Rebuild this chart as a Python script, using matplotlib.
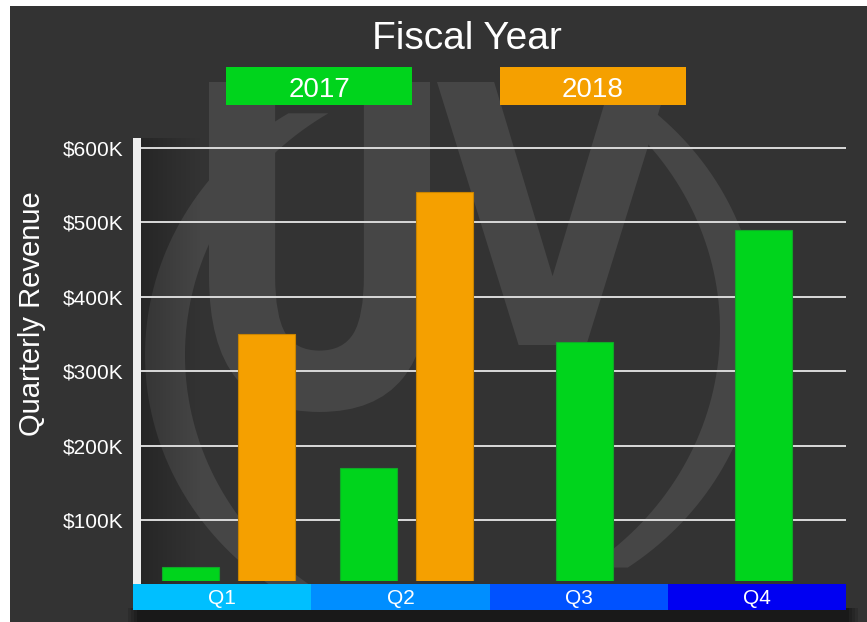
import matplotlib
matplotlib.use('Agg')
import matplotlib.pyplot as plt
import numpy as np
from matplotlib.patches import Rectangle, Polygon, PathPatch
from matplotlib.path import Path
from matplotlib.textpath import TextPath
from matplotlib.font_manager import FontProperties

# data
quarters = ['Q1', 'Q2', 'Q3', 'Q4']
years = ['2017', '2018']
rev_2017 = [38000, 170000, 340000, 490000]
rev_2018 = [350000, 540000, None, None]
yticks = [100000, 200000, 300000, 400000, 500000, 600000]
ytick_labels = ['$100K', '$200K', '$300K', '$400K', '$500K', '$600K']

year_colors = ['#00d41c', '#f5a000']
year_edges = ['#10a828', '#c98400']
band_colors = ['#00bfff', '#008eff', '#0052ff', '#0000f2']
panel = '#333333'
mark = '#464646'

plt.rcParams['font.family'] = ['Liberation Sans', 'DejaVu Sans']

W, H = 867, 622
fig = plt.figure(figsize=(W / 100, H / 100), dpi=100)
fig.patch.set_facecolor('white')


def fx(px):
    return px / W


def fy(py):
    return 1 - py / H


# background layer in pixel coordinates (y downwards)
bg = fig.add_axes([0, 0, 1, 1], zorder=0)
bg.set_xlim(0, W)
bg.set_ylim(H, 0)
bg.axis('off')
bg.add_patch(Rectangle((10, 6), W - 10, H - 6, color=panel, lw=0))


# watermark logo
def glyph(ch, x0, y0, x1, y1):
    tp = TextPath((0, 0), ch, size=100, prop=FontProperties(family='DejaVu Sans', weight='bold'))
    v = tp.vertices.copy()
    ext = tp.get_extents()
    v[:, 0] = x0 + (v[:, 0] - ext.x0) / ext.width * (x1 - x0)
    v[:, 1] = y1 - (v[:, 1] - ext.y0) / ext.height * (y1 - y0)
    bg.add_patch(PathPatch(Path(v, tp.codes), color=mark, lw=0))


def crescent(cx, cy, rx, ry, d, a0, a1):
    t = np.radians(np.linspace(a0, a1, 80))
    outer = np.column_stack([cx + rx * np.cos(t), cy + ry * np.sin(t)])
    inner = np.column_stack([cx + d + rx * np.cos(t[::-1]), cy + ry * np.sin(t[::-1])])
    bg.add_patch(Polygon(np.vstack([outer, inner]), closed=True, color=mark, lw=0))


glyph('U', 209, 82, 430, 412)
glyph('V', 437, 82, 668, 345)
crescent(450, 355, 305, 285, 40, 118, 238)
crescent(450, 330, 310, 290, -40, -62, 55)

# darker shade just right of the axis bar
shade = np.linspace(0.25, 0, 60)[None, :]
bg.imshow(np.zeros((1, 60)), extent=(141, 201, 584, 138), cmap='gray', alpha=shade,
          aspect='auto', zorder=2)
bg.set_xlim(0, W)
bg.set_ylim(H, 0)

# legend boxes
for k, yr in enumerate(years):
    x0 = 226 + k * 274
    bg.add_patch(Rectangle((x0, 67), 186, 38, color=year_colors[k], lw=0))
    bg.text(x0 + 93, 97, yr, ha='center', va='baseline', color='white', fontsize=20)

bg.text(467, 49, 'Fiscal Year', ha='center', va='baseline', color='white', fontsize=28)
bg.text(32, 314, 'Quarterly Revenue', rotation=90, ha='center', va='center',
        color='white', fontsize=21)

# soft shadow under the quarter band
for i, a in enumerate([0.12, 0.12, 0.15, 0.2]):
    bg.add_patch(Rectangle((128 + i * 3, 608), 730 - i * 6, 14, color='black', alpha=a, lw=0))

# main bar chart
ax = fig.add_axes([fx(133), fy(581), fx(846) - fx(133), fy(138) - fy(581)], zorder=1)
ax.set_facecolor('none')
ax.set_xlim(0, 4)
ax.set_ylim(18800, 613000)

for i, q in enumerate(quarters):
    vals = [rev_2017[i], rev_2018[i]]
    present = [k for k, v in enumerate(vals) if v is not None]
    n = len(present)
    for j, k in enumerate(present):
        off = (j - (n - 1) / 2) * 0.43 + 0.035
        ax.bar(i + 0.5 + off, vals[k], width=0.32, color=year_colors[k],
               edgecolor=year_edges[k], lw=0.8, zorder=3)

ax.set_yticks(yticks, ytick_labels)
ax.set_xticks([])
ax.tick_params(axis='y', length=0, pad=7, labelsize=15, labelcolor='white')
ax.grid(axis='y', color='#dadada', lw=1.4)
ax.set_axisbelow(True)
for s in ax.spines.values():
    s.set_visible(False)

# white vertical axis bar
ax.add_patch(Rectangle((0, -3 / 443), 8 / 713, 1 + 3 / 443, transform=ax.transAxes,
                       color='#eeeeee', clip_on=False, zorder=4, lw=0))

# quarter band
bx = fig.add_axes([fx(133), fy(610), fx(846) - fx(133), fy(584) - fy(610)], zorder=1)
bx.set_xlim(0, 4)
bx.set_ylim(0, 1)
bx.axis('off')
for i, q in enumerate(quarters):
    bx.bar(i + 0.5, 1, width=1, bottom=0, color=band_colors[i], lw=0)
    bx.text(i + 0.5, 0.5, q, ha='center', va='center_baseline', color='white', fontsize=15)

fig.savefig('out.png', dpi=100, facecolor=fig.get_facecolor())
